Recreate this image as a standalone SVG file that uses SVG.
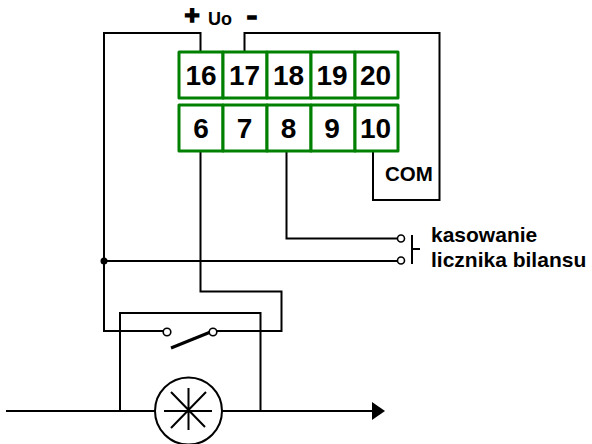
<svg xmlns="http://www.w3.org/2000/svg" width="592" height="444" viewBox="0 0 592 444">
<style>
.w{fill:none;stroke:#000;stroke-width:2;stroke-linejoin:miter}
.o{fill:#fff;stroke:#000;stroke-width:1.6}
.c{fill:#fff;stroke:#008000;stroke-width:3;stroke-linejoin:round}
text{font-family:"Liberation Sans",Arial,sans-serif;font-weight:bold;fill:#000}
.n{font-size:28px;text-anchor:middle}
.l{font-size:21px}
.s{font-size:26px;text-anchor:middle;stroke:#000;stroke-width:1.5}
</style>
<rect width="592" height="444" fill="#fff"/>
<g id="connectors">
<path class="w" d="M200.500 51V33H104V331H163"/>
<path class="w" d="M244.500 51V33H439.500V200H373V151"/>
<path class="w" d="M200.500 151V291.500H281.500V331H217"/>
<path class="w" d="M286.500 151V238.500H397"/>
<path class="w" d="M104 261H397"/>
<path class="w" d="M120 411V313H260.500V411"/>
<path class="w" d="M6 411H155M222 411H373"/>
<path d="M372 402L385 411L372 420Z" fill="#000"/>
<circle cx="104" cy="261" r="3.500" fill="#000"/>
</g>
<g id="terminals-top">
<rect class="c" x="179" y="52" width="44" height="46"/><rect class="c" x="223" y="52" width="44" height="46"/><rect class="c" x="267" y="52" width="44" height="46"/><rect class="c" x="311" y="52" width="44" height="46"/><rect class="c" x="355" y="52" width="43" height="46"/>
<text class="n" x="201" y="85">16</text><text class="n" x="244.500" y="85">17</text><text class="n" x="288.500" y="85">18</text><text class="n" x="332" y="85">19</text><text class="n" x="375.500" y="85">20</text>
</g>
<g id="terminals-bottom">
<rect class="c" x="179" y="105" width="44" height="46"/><rect class="c" x="223" y="105" width="44" height="46"/><rect class="c" x="267" y="105" width="44" height="46"/><rect class="c" x="311" y="105" width="44" height="46"/><rect class="c" x="355" y="105" width="43" height="46"/>
<text class="n" x="201" y="138">6</text><text class="n" x="244.500" y="138">7</text><text class="n" x="288.500" y="138">8</text><text class="n" x="332" y="138">9</text><text class="n" x="375.500" y="138">10</text>
</g>
<g id="supply">
<text class="s" x="192" y="24">+</text>
<text x="208" y="25" font-size="18">Uo</text>
<text class="s" transform="translate(252 24) scale(1.2 1)">-</text>
<text x="385" y="181" font-size="20.500">COM</text>
</g>
<g id="reset-contact">
<circle class="o" cx="401" cy="238.500" r="3.500"/>
<circle class="o" cx="401" cy="260.500" r="3.500"/>
<path class="w" d="M412 235V264M412 249H420"/>
<text class="l" x="431" y="242">kasowanie</text>
<text class="l" x="431" y="267">licznika bilansu</text>
</g>
<g id="switch">
<path d="M171 348L213 331" fill="none" stroke="#000" stroke-width="3"/>
<circle class="o" cx="167" cy="332" r="3.800"/>
<circle class="o" cx="213" cy="332" r="3.800"/>
</g>
<g id="meter">
<circle cx="188.500" cy="411" r="33.500" fill="#fff" stroke="#000" stroke-width="2"/>
<path d="M164 411H212M188.500 388V430M171 392L205 427M206 392L171 428" fill="none" stroke="#000" stroke-width="2"/>
</g>
</svg>
